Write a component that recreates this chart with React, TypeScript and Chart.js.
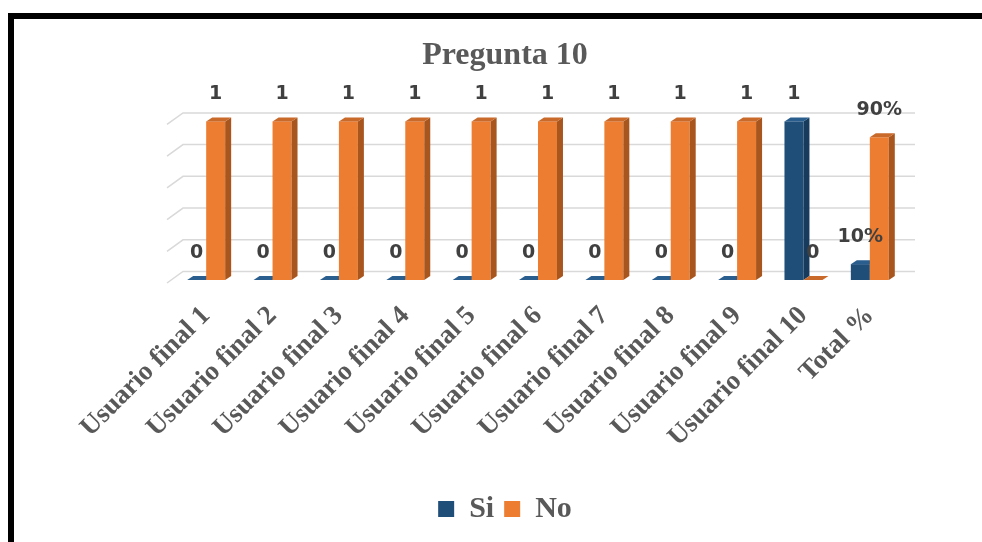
import { useEffect, useRef } from 'react';
import { Chart, registerables } from 'chart.js';

Chart.register(...registerables);

// Categories and answers for "Pregunta 10"
const categories = [
  'Usuario final 1',
  'Usuario final 2',
  'Usuario final 3',
  'Usuario final 4',
  'Usuario final 5',
  'Usuario final 6',
  'Usuario final 7',
  'Usuario final 8',
  'Usuario final 9',
  'Usuario final 10',
  'Total %',
];
const siValues = [0, 0, 0, 0, 0, 0, 0, 0, 0, 1, 0.1];
const noValues = [1, 1, 1, 1, 1, 1, 1, 1, 1, 0, 0.9];
const gridValues = [0, 0.2, 0.4, 0.6, 0.8, 1];
const totalIndex = categories.length - 1;

const SERIF = '"Liberation Serif", "Times New Roman", serif';
const SANS = '"DejaVu Sans", Verdana, sans-serif';

const faces = [
  { front: '#1F4E79', side: '#163B5D', top: '#2A5E8E' },
  { front: '#ED7D31', side: '#A9561E', top: '#C9692A' },
];

// depth of each bar
const BAR_DX = 6;
const BAR_DY = 4;

const formatValue = (v: number, i: number) =>
  i === totalIndex ? `${Math.round(v * 100)}%` : String(v);

function poly(ctx: CanvasRenderingContext2D, pts: number[][], fill: string) {
  ctx.beginPath();
  ctx.moveTo(pts[0][0], pts[0][1]);
  for (let k = 1; k < pts.length; k++) ctx.lineTo(pts[k][0], pts[k][1]);
  ctx.closePath();
  ctx.fillStyle = fill;
  ctx.fill();
}

const threeD = {
  id: 'threeD',
  beforeDatasetsDraw(chart: any) {
    const { ctx, chartArea } = chart;
    const y = chart.scales.y;
    const L = chartArea.left;
    const R = chartArea.right;

    // back wall gridlines with a short slanted edge on the left
    ctx.save();
    ctx.strokeStyle = '#D9D9D9';
    ctx.lineWidth = 1.5;
    for (const v of gridValues) {
      const py = y.getPixelForValue(v);
      ctx.beginPath();
      ctx.moveTo(L - 6, py + 3);
      ctx.lineTo(L + 10, py - 8.5);
      ctx.lineTo(R + 12, py - 8.5);
      ctx.stroke();
    }
    ctx.restore();

    // bars, category by category so neighbours overlap correctly
    const metas = chart.getSortedVisibleDatasetMetas();
    const n = chart.data.labels.length;
    ctx.save();
    for (let i = 0; i < n; i++) {
      for (const meta of metas) {
        const el = meta.data[i];
        if (!el) continue;
        const { x, y: top, base, width } = el.getProps(['x', 'y', 'base', 'width'], true);
        const c = faces[meta.index];
        const l = x - width / 2;
        const r = x + width / 2;
        if (base - top > 0) {
          ctx.fillStyle = c.front;
          ctx.fillRect(l, top, width, base - top);
          poly(ctx, [[r, top], [r + BAR_DX, top - BAR_DY], [r + BAR_DX, base - BAR_DY], [r, base]], c.side);
        }
        poly(ctx, [[l, top], [l + BAR_DX, top - BAR_DY], [r + BAR_DX, top - BAR_DY], [r, top]], c.top);
      }
    }
    ctx.restore();
    return false;
  },
  afterDraw(chart: any) {
    const { ctx } = chart;
    ctx.save();
    ctx.font = `bold 19px ${SANS}`;
    ctx.fillStyle = '#404040';
    ctx.textAlign = 'center';
    ctx.textBaseline = 'middle';
    for (const meta of chart.getSortedVisibleDatasetMetas()) {
      const values = chart.data.datasets[meta.index].data as number[];
      meta.data.forEach((el: any, i: number) => {
        const { x, y } = el.getProps(['x', 'y'], true);
        ctx.fillText(formatValue(values[i], i), x, y - 27);
      });
    }
    ctx.restore();
  },
};

const hiddenAxis = (position: 'left' | 'right', width: number) => ({
  position,
  display: true,
  grid: { display: false, drawTicks: false },
  border: { display: false },
  ticks: { display: false },
  afterFit: (s: any) => {
    s.width = width;
  },
});

export default function App() {
  const ref = useRef<HTMLCanvasElement>(null);

  useEffect(() => {
    if (!ref.current) return;
    const chart = new Chart(ref.current, {
      type: 'bar',
      data: {
        labels: categories,
        datasets: [
          { label: 'Si', data: siValues, backgroundColor: faces[0].front, borderWidth: 0 },
          { label: 'No', data: noValues, backgroundColor: faces[1].front, borderWidth: 0 },
        ],
      },
      options: {
        responsive: false,
        animation: false,
        events: [],
        datasets: { bar: { categoryPercentage: 0.572, barPercentage: 1 } },
        layout: { padding: { left: 0, right: 0, top: 0, bottom: 15 } },
        plugins: {
          title: {
            display: true,
            text: 'Pregunta 10',
            color: '#595959',
            font: { family: SERIF, size: 32, weight: 'bold' },
            padding: { top: 18, bottom: 46 },
          },
          legend: {
            position: 'bottom',
            labels: {
              boxWidth: 16,
              boxHeight: 16,
              padding: 10,
              color: '#595959',
              font: { family: SERIF, size: 30, weight: 'bold' },
            },
          },
          tooltip: { enabled: false },
        },
        scales: {
          x: {
            grid: { display: false, drawTicks: false },
            border: { display: false },
            ticks: {
              autoSkip: false,
              minRotation: 45,
              maxRotation: 45,
              padding: 20,
              color: '#595959',
              font: { family: SERIF, size: 27, weight: 'bold' },
            },
            afterFit: (s: any) => {
              s.height = 204;
            },
          },
          y: { ...hiddenAxis('left', 159), min: 0, max: 1 },
          yRight: { ...hiddenAxis('right', 93), min: 0, max: 1 },
        },
      },
      plugins: [threeD],
    } as any);
    return () => chart.destroy();
  }, []);

  return (
    <div style={{ position: 'fixed', inset: 0, overflow: 'hidden', background: '#fff' }}>
      <div
        style={{
          position: 'absolute',
          left: 8,
          top: 13,
          width: 982,
          height: 540,
          border: '6px solid #000',
          background: '#fff',
        }}
      >
        <canvas ref={ref} width={982} height={530} style={{ display: 'block' }} />
      </div>
    </div>
  );
}
